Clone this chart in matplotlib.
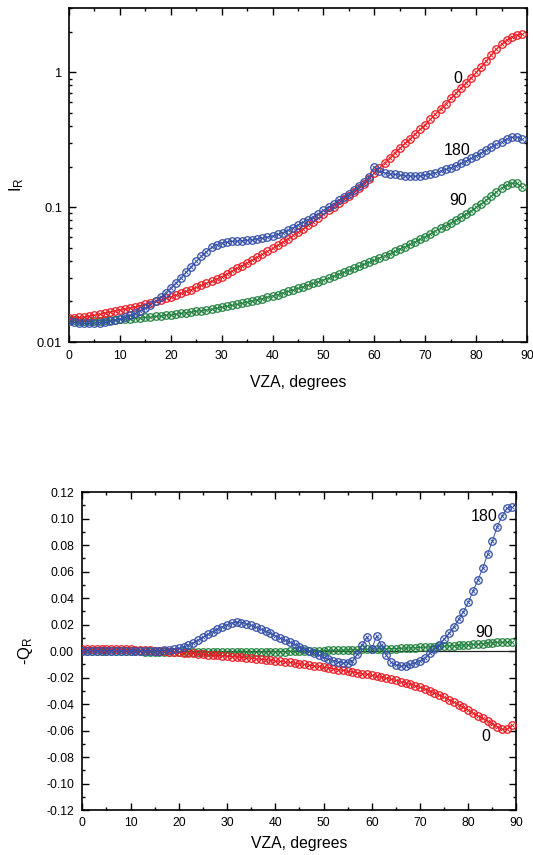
import numpy as np
import matplotlib
matplotlib.use('Agg')
import matplotlib.pyplot as plt
from matplotlib.ticker import MultipleLocator, FixedLocator, FixedFormatter, NullFormatter, FormatStrFormatter

plt.rcParams['font.family'] = ['Liberation Sans', 'DejaVu Sans']
plt.rcParams['mathtext.default'] = 'regular'
plt.rcParams['axes.unicode_minus'] = False

vza = list(range(90))

# ---------------- top panel: I_R ----------------
ir_0 = [0.0150, 0.0151, 0.0152, 0.0154, 0.0156, 0.0158, 0.0161, 0.0164, 0.0167, 0.0170,
        0.0173, 0.0176, 0.0179, 0.0182, 0.0186, 0.0190, 0.0195, 0.0200, 0.0205, 0.0211,
        0.0217, 0.0223, 0.0230, 0.0237, 0.0245, 0.0254, 0.0263, 0.0272, 0.0282, 0.0293,
        0.0305, 0.0320, 0.0335, 0.0352, 0.0369, 0.0387, 0.0406, 0.0426, 0.0447, 0.0470,
        0.0494, 0.0522, 0.0552, 0.0584, 0.0618, 0.0653, 0.0693, 0.0736, 0.0782, 0.0832,
        0.0885, 0.0945, 0.1010, 0.1078, 0.1150, 0.1220, 0.1300, 0.1390, 0.1490, 0.1620,
        0.1800, 0.196, 0.213, 0.232, 0.253, 0.274, 0.297, 0.322, 0.349, 0.378,
        0.410, 0.448, 0.490, 0.535, 0.585, 0.640, 0.700, 0.765, 0.835, 0.913,
        1.000, 1.10, 1.22, 1.35, 1.49, 1.62, 1.74, 1.84, 1.90, 1.92]
ir_180 = [0.0142, 0.0140, 0.0139, 0.0138, 0.0138, 0.0138, 0.0139, 0.0140, 0.0142, 0.0145,
          0.0149, 0.0153, 0.0158, 0.0163, 0.0170, 0.0178, 0.0189, 0.0201, 0.0215, 0.0232,
          0.0252, 0.0274, 0.0300, 0.0330, 0.0362, 0.0396, 0.0432, 0.0469, 0.0503, 0.0528,
          0.0543, 0.0552, 0.0557, 0.0561, 0.0565, 0.0569, 0.0574, 0.0582, 0.0590, 0.0600,
          0.0612, 0.0628, 0.0648, 0.0672, 0.0703, 0.0738, 0.0775, 0.0810, 0.0850, 0.0895,
          0.0945, 0.1000, 0.1060, 0.1125, 0.1190, 0.1260, 0.1340, 0.1430, 0.1530, 0.1680,
          0.1990, 0.1840, 0.1800, 0.1770, 0.1750, 0.1730, 0.1715, 0.1705, 0.1700, 0.1710,
          0.1730, 0.1760, 0.1800, 0.1850, 0.1905, 0.1965, 0.2030, 0.2110, 0.2200, 0.2300,
          0.2410, 0.2530, 0.2660, 0.2790, 0.2930, 0.3060, 0.3200, 0.3300, 0.3320, 0.3180]
ir_90 = [0.0146, 0.0145, 0.0144, 0.0144, 0.0144, 0.0144, 0.0144, 0.0145, 0.0145, 0.0146,
         0.0147, 0.0148, 0.0149, 0.0150, 0.0151, 0.0152, 0.0153, 0.0155, 0.0156, 0.0158,
         0.0159, 0.0161, 0.0163, 0.0165, 0.0167, 0.0169, 0.0171, 0.0173, 0.0175, 0.0178,
         0.0181, 0.0184, 0.0187, 0.0190, 0.0194, 0.0198, 0.0202, 0.0206, 0.0210, 0.0215,
         0.0220, 0.0225, 0.0231, 0.0237, 0.0243, 0.0250, 0.0257, 0.0264, 0.0272, 0.0280,
         0.0289, 0.0298, 0.0308, 0.0318, 0.0329, 0.0340, 0.0352, 0.0364, 0.0377, 0.0391,
         0.0405, 0.0420, 0.0436, 0.0452, 0.0470, 0.0490, 0.0510, 0.0532, 0.0555, 0.0580,
         0.0606, 0.0634, 0.0664, 0.0696, 0.0730, 0.0766, 0.0805, 0.0846, 0.0890, 0.0940,
         0.1000, 0.1060, 0.1130, 0.1210, 0.1300, 0.1390, 0.1460, 0.1510, 0.1500, 0.1400]

# ---------------- bottom panel: -Q_R ----------------
q_0 = [0.0012, 0.0013, 0.0014, 0.0015, 0.0015, 0.0015, 0.0015, 0.0015, 0.0014, 0.0013,
       0.0012, 0.0011, 0.0009, 0.0007, 0.0005, 0.0003, 0.0001, -0.0001, -0.0004, -0.0006,
       -0.0009, -0.0012, -0.0015, -0.0018, -0.0021, -0.0024, -0.0027, -0.0030, -0.0033, -0.0036,
       -0.0039, -0.0042, -0.0045, -0.0048, -0.0051, -0.0054, -0.0058, -0.0062, -0.0066, -0.0070,
       -0.0074, -0.0078, -0.0082, -0.0086, -0.0091, -0.0096, -0.0101, -0.0106, -0.0111, -0.0116,
       -0.0122, -0.0128, -0.0134, -0.0140, -0.0146, -0.0152, -0.0158, -0.0164, -0.0170, -0.0177,
       -0.0184, -0.0191, -0.0198, -0.0205, -0.0213, -0.0221, -0.0230, -0.0240, -0.0250, -0.0261,
       -0.0273, -0.0286, -0.0300, -0.0315, -0.0331, -0.0348, -0.0366, -0.0385, -0.0405, -0.0425,
       -0.0446, -0.0467, -0.0488, -0.0509, -0.0529, -0.0548, -0.0570, -0.0588, -0.0592, -0.0558]
q_180 = [0.0003, 0.0003, 0.0003, 0.0003, 0.0003, 0.0003, 0.0003, 0.0003, 0.0003, 0.0003,
         0.0003, 0.0003, 0.0003, 0.0003, 0.0003, 0.0003, 0.0004, 0.0006, 0.0009, 0.0014,
         0.0021, 0.0031, 0.0045, 0.0062, 0.0082, 0.0104, 0.0126, 0.0147, 0.0167, 0.0184,
         0.0200, 0.0212, 0.0218, 0.0215, 0.0206, 0.0194, 0.0180, 0.0166, 0.0150, 0.0134,
         0.0116, 0.0098, 0.0082, 0.0066, 0.0050, 0.0034, 0.0017, 0.0000, -0.0017, -0.0033,
         -0.0048, -0.0061, -0.0072, -0.0081, -0.0087, -0.0088, -0.0075, -0.0025, 0.0045, 0.0108,
         0.0013, 0.0113, 0.0045, -0.0030, -0.0085, -0.0105, -0.0113, -0.0110, -0.0100, -0.0088,
         -0.0072, -0.0050, -0.0018, 0.0015, 0.0047, 0.0090, 0.0133, 0.0183, 0.0239, 0.0297,
         0.0367, 0.0453, 0.0536, 0.0624, 0.0730, 0.0830, 0.0938, 0.1019, 0.1077, 0.1090]
q_90 = [-0.0002, -0.0002, -0.0002, -0.0002, -0.0002, -0.0002, -0.0002, -0.0002, -0.0002, -0.0002,
        -0.0002, -0.0003, -0.0003, -0.0004, -0.0004, -0.0005, -0.0005, -0.0006, -0.0006, -0.0007,
        -0.0007, -0.0008, -0.0008, -0.0008, -0.0009, -0.0009, -0.0009, -0.0009, -0.0009, -0.0009,
        -0.0009, -0.0009, -0.0009, -0.0009, -0.0009, -0.0008, -0.0008, -0.0007, -0.0007, -0.0006,
        -0.0006, -0.0005, -0.0004, -0.0003, -0.0002, -0.0001, 0.0000, 0.0001, 0.0002, 0.0003,
        0.0004, 0.0005, 0.0006, 0.0007, 0.0008, 0.0009, 0.0010, 0.0011, 0.0012, 0.0013,
        0.0014, 0.0015, 0.0016, 0.0017, 0.0018, 0.0019, 0.0020, 0.0022, 0.0023, 0.0025,
        0.0027, 0.0029, 0.0031, 0.0033, 0.0035, 0.0037, 0.0039, 0.0041, 0.0043, 0.0045,
        0.0047, 0.0050, 0.0053, 0.0056, 0.0059, 0.0062, 0.0065, 0.0067, 0.0068, 0.0066]

series_names = ['0', '90', '180']
colors = {'0': '#ec1c24', '90': '#22823f', '180': '#3550a8'}

fig = plt.figure(figsize=(5.33, 8.55), dpi=100)
ax1 = fig.add_axes([0.1295, 0.600, 0.8593, 0.3906])
ax2 = fig.add_axes([0.1544, 0.0526, 0.8146, 0.3719])


def draw(ax, x, y, c, z):
    ax.plot(x, y, '-', color=c, lw=0.7, zorder=z)
    ax.plot(x, y, 'o', ms=5.4, mfc='none', mec=c, mew=0.9, zorder=z)
    ax.plot(x, y, 'x', ms=3.0, mec=c, mew=0.65, zorder=z)


top = {'0': ir_0, '90': ir_90, '180': ir_180}
bot = {'0': q_0, '90': q_90, '180': q_180}
order = ['90', '0', '180']
for i, k in enumerate(order):
    draw(ax1, vza, top[k], colors[k], 3 + i)
    draw(ax2, vza, bot[k], colors[k], 3 + i)

ax2.axhline(0, color='#222222', lw=0.9, zorder=2)


def style(ax):
    for s in ax.spines.values():
        s.set_linewidth(1.2)
    ax.tick_params(which='both', direction='in', top=True, right=True, width=1.0)
    ax.tick_params(which='major', length=5)
    ax.tick_params(which='minor', length=2.5)
    ax.xaxis.set_major_locator(MultipleLocator(10))
    ax.xaxis.set_minor_locator(MultipleLocator(5))
    ax.set_xlim(0, 90)


# top axes
ax1.set_yscale('log')
ax1.set_ylim(0.01, 3.0)
style(ax1)
ax1.yaxis.set_major_locator(FixedLocator([0.01, 0.1, 1]))
ax1.yaxis.set_major_formatter(FixedFormatter(['0.01', '0.1', '1']))
minors = [m * 10.0 ** e for e in (-2, -1, 0) for m in range(2, 10)]
ax1.yaxis.set_minor_locator(FixedLocator(minors))
ax1.yaxis.set_minor_formatter(NullFormatter())
ax1.tick_params(axis='y', labelsize=9.3, pad=5)
ax1.tick_params(axis='x', labelsize=8.8, pad=6)
ax1.set_xlabel('VZA, degrees', fontsize=11.3)
ax1.xaxis.set_label_coords(0.5, -0.098)
ax1.set_ylabel('I$_{R}$', fontsize=12)
ax1.yaxis.set_label_coords(-0.095, 0.47)

ax1.text(76.4, 0.90, '0', fontsize=11.5, ha='center', va='center')
ax1.text(76.2, 0.264, '180', fontsize=11.5, ha='center', va='center')
ax1.text(76.5, 0.113, '90', fontsize=11.5, ha='center', va='center')

# bottom axes
ax2.set_ylim(-0.12, 0.12)
style(ax2)
ax2.yaxis.set_major_locator(MultipleLocator(0.02))
ax2.yaxis.set_minor_locator(MultipleLocator(0.01))
ax2.yaxis.set_major_formatter(FormatStrFormatter('%.2f'))
ax2.tick_params(axis='y', labelsize=8.8, pad=6)
ax2.tick_params(axis='x', labelsize=8.8, pad=5)
ax2.set_xlabel('VZA, degrees', fontsize=11.3)
ax2.xaxis.set_label_coords(0.5, -0.082)
ax2.set_ylabel('-Q$_{R}$', fontsize=12)
ax2.yaxis.set_label_coords(-0.108, 0.5)

ax2.text(83.3, 0.1019, '180', fontsize=11.5, ha='center', va='center')
ax2.text(83.2, 0.0138, '90', fontsize=11.5, ha='center', va='center')
ax2.text(83.6, -0.0647, '0', fontsize=11.5, ha='center', va='center')

fig.savefig('out.png', dpi=100)
